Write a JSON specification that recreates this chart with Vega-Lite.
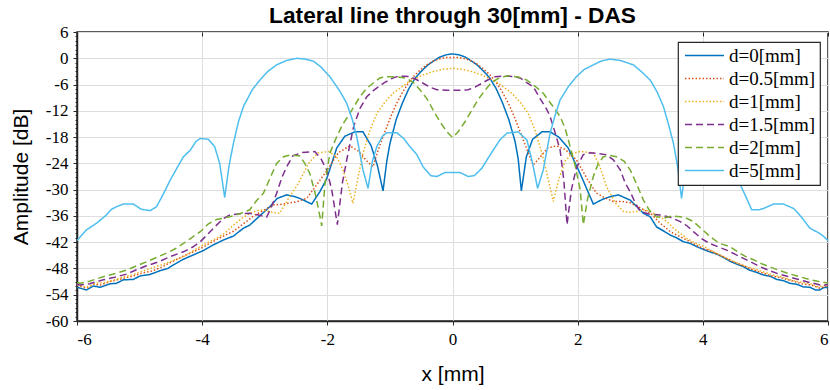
{
  "$schema": "https://vega.github.io/schema/vega-lite/v6.json",
  "width": 751,
  "height": 289,
  "autosize": "none",
  "padding": {"left": 77, "top": 32, "right": 2, "bottom": 69},
  "background": "white",
  "title": {
    "text": "Lateral line through 30[mm] - DAS",
    "font": "Liberation Sans",
    "fontSize": 22.7,
    "fontWeight": "bold",
    "color": "black",
    "anchor": "middle",
    "frame": "group",
    "offset": 5,
    "dy": 10
  },
  "config": {
    "view": {"stroke": "#262626", "strokeWidth": 1.5},
    "axis": {
      "domainColor": "#262626",
      "domainWidth": 1.5,
      "tickColor": "#262626",
      "gridColor": "#dedede",
      "gridWidth": 1,
      "labelFont": "Liberation Serif",
      "labelFontSize": 17,
      "labelColor": "black",
      "titleFont": "Liberation Sans",
      "titleFontSize": 21,
      "titleFontWeight": "normal",
      "titleColor": "black"
    },
    "legend": {
      "orient": "none",
      "legendX": 601,
      "legendY": 10,
      "direction": "vertical",
      "fillColor": "white",
      "strokeColor": "#262626",
      "strokeWidth": 1.2,
      "padding": 4,
      "symbolType": "M-1,0H5",
      "symbolSize": 169,
      "symbolStrokeWidth": 1.5,
      "labelFont": "Liberation Serif",
      "labelFontSize": 19,
      "labelColor": "black",
      "labelOffset": 28,
      "labelLimit": 200,
      "rowPadding": 3
    }
  },
  "datasets": {
    "curves": [
      {"d": "d=0[mm]", "x": -6.00, "y": -52.3},
      {"d": "d=0[mm]", "x": -5.85, "y": -52.9},
      {"d": "d=0[mm]", "x": -5.74, "y": -52.0},
      {"d": "d=0[mm]", "x": -5.63, "y": -52.3},
      {"d": "d=0[mm]", "x": -5.47, "y": -51.5},
      {"d": "d=0[mm]", "x": -5.37, "y": -51.4},
      {"d": "d=0[mm]", "x": -5.26, "y": -50.6},
      {"d": "d=0[mm]", "x": -5.10, "y": -50.5},
      {"d": "d=0[mm]", "x": -4.99, "y": -49.7},
      {"d": "d=0[mm]", "x": -4.84, "y": -49.4},
      {"d": "d=0[mm]", "x": -4.67, "y": -48.5},
      {"d": "d=0[mm]", "x": -4.55, "y": -48.0},
      {"d": "d=0[mm]", "x": -4.46, "y": -47.2},
      {"d": "d=0[mm]", "x": -4.30, "y": -45.9},
      {"d": "d=0[mm]", "x": -4.14, "y": -44.9},
      {"d": "d=0[mm]", "x": -3.98, "y": -43.9},
      {"d": "d=0[mm]", "x": -3.82, "y": -42.6},
      {"d": "d=0[mm]", "x": -3.66, "y": -41.5},
      {"d": "d=0[mm]", "x": -3.50, "y": -40.6},
      {"d": "d=0[mm]", "x": -3.34, "y": -38.8},
      {"d": "d=0[mm]", "x": -3.24, "y": -38.1},
      {"d": "d=0[mm]", "x": -3.08, "y": -36.0},
      {"d": "d=0[mm]", "x": -2.92, "y": -33.9},
      {"d": "d=0[mm]", "x": -2.80, "y": -32.0},
      {"d": "d=0[mm]", "x": -2.65, "y": -31.2},
      {"d": "d=0[mm]", "x": -2.52, "y": -31.6},
      {"d": "d=0[mm]", "x": -2.44, "y": -32.0},
      {"d": "d=0[mm]", "x": -2.25, "y": -33.3},
      {"d": "d=0[mm]", "x": -2.12, "y": -30.5},
      {"d": "d=0[mm]", "x": -2.01, "y": -27.5},
      {"d": "d=0[mm]", "x": -1.85, "y": -20.5},
      {"d": "d=0[mm]", "x": -1.72, "y": -17.8},
      {"d": "d=0[mm]", "x": -1.56, "y": -16.8},
      {"d": "d=0[mm]", "x": -1.43, "y": -16.8},
      {"d": "d=0[mm]", "x": -1.30, "y": -20.0},
      {"d": "d=0[mm]", "x": -1.20, "y": -24.5},
      {"d": "d=0[mm]", "x": -1.11, "y": -30.3},
      {"d": "d=0[mm]", "x": -1.05, "y": -23.5},
      {"d": "d=0[mm]", "x": -1.00, "y": -19.5},
      {"d": "d=0[mm]", "x": -0.90, "y": -14.0},
      {"d": "d=0[mm]", "x": -0.80, "y": -10.2},
      {"d": "d=0[mm]", "x": -0.70, "y": -7.0},
      {"d": "d=0[mm]", "x": -0.60, "y": -4.6},
      {"d": "d=0[mm]", "x": -0.50, "y": -3.0},
      {"d": "d=0[mm]", "x": -0.40, "y": -1.6},
      {"d": "d=0[mm]", "x": -0.30, "y": -0.6},
      {"d": "d=0[mm]", "x": -0.20, "y": 0.3},
      {"d": "d=0[mm]", "x": -0.10, "y": 0.8},
      {"d": "d=0[mm]", "x": 0.00, "y": 1.0},
      {"d": "d=0[mm]", "x": 0.10, "y": 0.8},
      {"d": "d=0[mm]", "x": 0.20, "y": 0.3},
      {"d": "d=0[mm]", "x": 0.30, "y": -0.6},
      {"d": "d=0[mm]", "x": 0.40, "y": -1.6},
      {"d": "d=0[mm]", "x": 0.50, "y": -3.0},
      {"d": "d=0[mm]", "x": 0.60, "y": -4.6},
      {"d": "d=0[mm]", "x": 0.70, "y": -7.0},
      {"d": "d=0[mm]", "x": 0.80, "y": -10.2},
      {"d": "d=0[mm]", "x": 0.90, "y": -14.0},
      {"d": "d=0[mm]", "x": 1.00, "y": -19.0},
      {"d": "d=0[mm]", "x": 1.05, "y": -23.0},
      {"d": "d=0[mm]", "x": 1.10, "y": -30.3},
      {"d": "d=0[mm]", "x": 1.18, "y": -22.5},
      {"d": "d=0[mm]", "x": 1.28, "y": -18.5},
      {"d": "d=0[mm]", "x": 1.43, "y": -16.8},
      {"d": "d=0[mm]", "x": 1.56, "y": -16.8},
      {"d": "d=0[mm]", "x": 1.70, "y": -18.0},
      {"d": "d=0[mm]", "x": 1.85, "y": -20.5},
      {"d": "d=0[mm]", "x": 2.06, "y": -27.0},
      {"d": "d=0[mm]", "x": 2.25, "y": -33.3},
      {"d": "d=0[mm]", "x": 2.40, "y": -32.2},
      {"d": "d=0[mm]", "x": 2.52, "y": -31.6},
      {"d": "d=0[mm]", "x": 2.65, "y": -31.2},
      {"d": "d=0[mm]", "x": 2.84, "y": -32.4},
      {"d": "d=0[mm]", "x": 3.05, "y": -35.4},
      {"d": "d=0[mm]", "x": 3.16, "y": -36.2},
      {"d": "d=0[mm]", "x": 3.26, "y": -38.5},
      {"d": "d=0[mm]", "x": 3.38, "y": -39.5},
      {"d": "d=0[mm]", "x": 3.48, "y": -40.4},
      {"d": "d=0[mm]", "x": 3.58, "y": -41.0},
      {"d": "d=0[mm]", "x": 3.69, "y": -41.9},
      {"d": "d=0[mm]", "x": 3.80, "y": -42.3},
      {"d": "d=0[mm]", "x": 3.90, "y": -43.0},
      {"d": "d=0[mm]", "x": 4.00, "y": -43.6},
      {"d": "d=0[mm]", "x": 4.11, "y": -44.2},
      {"d": "d=0[mm]", "x": 4.22, "y": -44.7},
      {"d": "d=0[mm]", "x": 4.33, "y": -45.5},
      {"d": "d=0[mm]", "x": 4.44, "y": -46.4},
      {"d": "d=0[mm]", "x": 4.54, "y": -47.0},
      {"d": "d=0[mm]", "x": 4.65, "y": -47.6},
      {"d": "d=0[mm]", "x": 4.75, "y": -48.4},
      {"d": "d=0[mm]", "x": 4.86, "y": -48.9},
      {"d": "d=0[mm]", "x": 4.97, "y": -49.5},
      {"d": "d=0[mm]", "x": 5.08, "y": -49.8},
      {"d": "d=0[mm]", "x": 5.18, "y": -50.5},
      {"d": "d=0[mm]", "x": 5.29, "y": -50.8},
      {"d": "d=0[mm]", "x": 5.39, "y": -51.4},
      {"d": "d=0[mm]", "x": 5.50, "y": -51.6},
      {"d": "d=0[mm]", "x": 5.60, "y": -52.2},
      {"d": "d=0[mm]", "x": 5.71, "y": -52.3},
      {"d": "d=0[mm]", "x": 5.80, "y": -52.9},
      {"d": "d=0[mm]", "x": 5.87, "y": -52.9},
      {"d": "d=0[mm]", "x": 5.93, "y": -52.4},
      {"d": "d=0[mm]", "x": 6.00, "y": -52.3},

      {"d": "d=0.5[mm]", "x": -6.00, "y": -51.8},
      {"d": "d=0.5[mm]", "x": -5.85, "y": -52.5},
      {"d": "d=0.5[mm]", "x": -5.74, "y": -51.6},
      {"d": "d=0.5[mm]", "x": -5.63, "y": -51.8},
      {"d": "d=0.5[mm]", "x": -5.47, "y": -51.0},
      {"d": "d=0.5[mm]", "x": -5.30, "y": -50.4},
      {"d": "d=0.5[mm]", "x": -5.10, "y": -49.7},
      {"d": "d=0.5[mm]", "x": -4.95, "y": -49.0},
      {"d": "d=0.5[mm]", "x": -4.80, "y": -48.6},
      {"d": "d=0.5[mm]", "x": -4.65, "y": -47.7},
      {"d": "d=0.5[mm]", "x": -4.50, "y": -46.6},
      {"d": "d=0.5[mm]", "x": -4.30, "y": -45.2},
      {"d": "d=0.5[mm]", "x": -4.14, "y": -44.2},
      {"d": "d=0.5[mm]", "x": -3.98, "y": -43.1},
      {"d": "d=0.5[mm]", "x": -3.82, "y": -41.8},
      {"d": "d=0.5[mm]", "x": -3.66, "y": -40.6},
      {"d": "d=0.5[mm]", "x": -3.50, "y": -39.5},
      {"d": "d=0.5[mm]", "x": -3.34, "y": -37.8},
      {"d": "d=0.5[mm]", "x": -3.18, "y": -36.0},
      {"d": "d=0.5[mm]", "x": -3.00, "y": -34.6},
      {"d": "d=0.5[mm]", "x": -2.86, "y": -33.5},
      {"d": "d=0.5[mm]", "x": -2.70, "y": -33.3},
      {"d": "d=0.5[mm]", "x": -2.50, "y": -32.8},
      {"d": "d=0.5[mm]", "x": -2.33, "y": -32.0},
      {"d": "d=0.5[mm]", "x": -2.15, "y": -28.5},
      {"d": "d=0.5[mm]", "x": -2.00, "y": -25.5},
      {"d": "d=0.5[mm]", "x": -1.82, "y": -21.5},
      {"d": "d=0.5[mm]", "x": -1.64, "y": -20.0},
      {"d": "d=0.5[mm]", "x": -1.50, "y": -21.2},
      {"d": "d=0.5[mm]", "x": -1.38, "y": -23.3},
      {"d": "d=0.5[mm]", "x": -1.27, "y": -24.8},
      {"d": "d=0.5[mm]", "x": -1.20, "y": -21.5},
      {"d": "d=0.5[mm]", "x": -1.10, "y": -17.5},
      {"d": "d=0.5[mm]", "x": -1.00, "y": -13.8},
      {"d": "d=0.5[mm]", "x": -0.90, "y": -10.5},
      {"d": "d=0.5[mm]", "x": -0.80, "y": -7.8},
      {"d": "d=0.5[mm]", "x": -0.70, "y": -5.5},
      {"d": "d=0.5[mm]", "x": -0.60, "y": -3.8},
      {"d": "d=0.5[mm]", "x": -0.50, "y": -2.5},
      {"d": "d=0.5[mm]", "x": -0.40, "y": -1.4},
      {"d": "d=0.5[mm]", "x": -0.30, "y": -0.6},
      {"d": "d=0.5[mm]", "x": -0.20, "y": -0.1},
      {"d": "d=0.5[mm]", "x": -0.10, "y": 0.2},
      {"d": "d=0.5[mm]", "x": 0.00, "y": 0.2},
      {"d": "d=0.5[mm]", "x": 0.10, "y": 0.2},
      {"d": "d=0.5[mm]", "x": 0.20, "y": -0.1},
      {"d": "d=0.5[mm]", "x": 0.30, "y": -0.6},
      {"d": "d=0.5[mm]", "x": 0.40, "y": -1.4},
      {"d": "d=0.5[mm]", "x": 0.50, "y": -2.5},
      {"d": "d=0.5[mm]", "x": 0.60, "y": -3.8},
      {"d": "d=0.5[mm]", "x": 0.70, "y": -5.5},
      {"d": "d=0.5[mm]", "x": 0.80, "y": -7.8},
      {"d": "d=0.5[mm]", "x": 0.90, "y": -10.5},
      {"d": "d=0.5[mm]", "x": 1.00, "y": -13.8},
      {"d": "d=0.5[mm]", "x": 1.10, "y": -17.5},
      {"d": "d=0.5[mm]", "x": 1.20, "y": -21.2},
      {"d": "d=0.5[mm]", "x": 1.29, "y": -24.4},
      {"d": "d=0.5[mm]", "x": 1.40, "y": -22.6},
      {"d": "d=0.5[mm]", "x": 1.52, "y": -20.5},
      {"d": "d=0.5[mm]", "x": 1.66, "y": -20.0},
      {"d": "d=0.5[mm]", "x": 1.80, "y": -20.8},
      {"d": "d=0.5[mm]", "x": 1.98, "y": -23.2},
      {"d": "d=0.5[mm]", "x": 2.15, "y": -27.5},
      {"d": "d=0.5[mm]", "x": 2.30, "y": -30.8},
      {"d": "d=0.5[mm]", "x": 2.45, "y": -32.0},
      {"d": "d=0.5[mm]", "x": 2.57, "y": -32.7},
      {"d": "d=0.5[mm]", "x": 2.70, "y": -32.7},
      {"d": "d=0.5[mm]", "x": 2.84, "y": -33.0},
      {"d": "d=0.5[mm]", "x": 3.00, "y": -34.2},
      {"d": "d=0.5[mm]", "x": 3.16, "y": -35.3},
      {"d": "d=0.5[mm]", "x": 3.30, "y": -37.4},
      {"d": "d=0.5[mm]", "x": 3.48, "y": -39.6},
      {"d": "d=0.5[mm]", "x": 3.66, "y": -40.9},
      {"d": "d=0.5[mm]", "x": 3.82, "y": -42.1},
      {"d": "d=0.5[mm]", "x": 3.98, "y": -43.3},
      {"d": "d=0.5[mm]", "x": 4.14, "y": -44.1},
      {"d": "d=0.5[mm]", "x": 4.30, "y": -45.1},
      {"d": "d=0.5[mm]", "x": 4.46, "y": -46.3},
      {"d": "d=0.5[mm]", "x": 4.62, "y": -47.2},
      {"d": "d=0.5[mm]", "x": 4.80, "y": -48.3},
      {"d": "d=0.5[mm]", "x": 4.95, "y": -49.0},
      {"d": "d=0.5[mm]", "x": 5.10, "y": -49.7},
      {"d": "d=0.5[mm]", "x": 5.26, "y": -50.2},
      {"d": "d=0.5[mm]", "x": 5.42, "y": -50.8},
      {"d": "d=0.5[mm]", "x": 5.58, "y": -51.5},
      {"d": "d=0.5[mm]", "x": 5.74, "y": -51.8},
      {"d": "d=0.5[mm]", "x": 5.87, "y": -52.5},
      {"d": "d=0.5[mm]", "x": 6.00, "y": -51.9},

      {"d": "d=1[mm]", "x": -6.00, "y": -51.6},
      {"d": "d=1[mm]", "x": -5.85, "y": -52.3},
      {"d": "d=1[mm]", "x": -5.70, "y": -51.4},
      {"d": "d=1[mm]", "x": -5.55, "y": -51.2},
      {"d": "d=1[mm]", "x": -5.40, "y": -50.6},
      {"d": "d=1[mm]", "x": -5.25, "y": -49.9},
      {"d": "d=1[mm]", "x": -5.10, "y": -49.4},
      {"d": "d=1[mm]", "x": -4.95, "y": -48.6},
      {"d": "d=1[mm]", "x": -4.83, "y": -48.0},
      {"d": "d=1[mm]", "x": -4.70, "y": -47.4},
      {"d": "d=1[mm]", "x": -4.57, "y": -46.8},
      {"d": "d=1[mm]", "x": -4.43, "y": -46.0},
      {"d": "d=1[mm]", "x": -4.30, "y": -45.3},
      {"d": "d=1[mm]", "x": -4.17, "y": -44.2},
      {"d": "d=1[mm]", "x": -4.03, "y": -43.0},
      {"d": "d=1[mm]", "x": -3.90, "y": -42.0},
      {"d": "d=1[mm]", "x": -3.77, "y": -41.1},
      {"d": "d=1[mm]", "x": -3.63, "y": -39.8},
      {"d": "d=1[mm]", "x": -3.50, "y": -38.1},
      {"d": "d=1[mm]", "x": -3.37, "y": -36.6},
      {"d": "d=1[mm]", "x": -3.24, "y": -35.4},
      {"d": "d=1[mm]", "x": -3.08, "y": -34.6},
      {"d": "d=1[mm]", "x": -2.94, "y": -35.0},
      {"d": "d=1[mm]", "x": -2.76, "y": -35.4},
      {"d": "d=1[mm]", "x": -2.62, "y": -32.0},
      {"d": "d=1[mm]", "x": -2.46, "y": -28.5},
      {"d": "d=1[mm]", "x": -2.30, "y": -24.0},
      {"d": "d=1[mm]", "x": -2.15, "y": -21.6},
      {"d": "d=1[mm]", "x": -1.98, "y": -21.3},
      {"d": "d=1[mm]", "x": -1.85, "y": -22.5},
      {"d": "d=1[mm]", "x": -1.75, "y": -25.5},
      {"d": "d=1[mm]", "x": -1.66, "y": -29.5},
      {"d": "d=1[mm]", "x": -1.59, "y": -33.1},
      {"d": "d=1[mm]", "x": -1.50, "y": -26.5},
      {"d": "d=1[mm]", "x": -1.43, "y": -21.7},
      {"d": "d=1[mm]", "x": -1.32, "y": -16.5},
      {"d": "d=1[mm]", "x": -1.21, "y": -12.6},
      {"d": "d=1[mm]", "x": -1.08, "y": -10.0},
      {"d": "d=1[mm]", "x": -0.95, "y": -8.0},
      {"d": "d=1[mm]", "x": -0.80, "y": -6.4},
      {"d": "d=1[mm]", "x": -0.70, "y": -5.4},
      {"d": "d=1[mm]", "x": -0.57, "y": -4.5},
      {"d": "d=1[mm]", "x": -0.45, "y": -3.7},
      {"d": "d=1[mm]", "x": -0.30, "y": -3.0},
      {"d": "d=1[mm]", "x": -0.15, "y": -2.5},
      {"d": "d=1[mm]", "x": 0.00, "y": -2.3},
      {"d": "d=1[mm]", "x": 0.15, "y": -2.5},
      {"d": "d=1[mm]", "x": 0.30, "y": -3.0},
      {"d": "d=1[mm]", "x": 0.45, "y": -3.7},
      {"d": "d=1[mm]", "x": 0.57, "y": -4.5},
      {"d": "d=1[mm]", "x": 0.70, "y": -5.4},
      {"d": "d=1[mm]", "x": 0.80, "y": -6.4},
      {"d": "d=1[mm]", "x": 0.95, "y": -8.0},
      {"d": "d=1[mm]", "x": 1.08, "y": -10.0},
      {"d": "d=1[mm]", "x": 1.21, "y": -12.6},
      {"d": "d=1[mm]", "x": 1.32, "y": -16.5},
      {"d": "d=1[mm]", "x": 1.43, "y": -21.7},
      {"d": "d=1[mm]", "x": 1.52, "y": -27.0},
      {"d": "d=1[mm]", "x": 1.61, "y": -32.7},
      {"d": "d=1[mm]", "x": 1.70, "y": -27.5},
      {"d": "d=1[mm]", "x": 1.80, "y": -23.5},
      {"d": "d=1[mm]", "x": 1.90, "y": -21.8},
      {"d": "d=1[mm]", "x": 2.04, "y": -21.3},
      {"d": "d=1[mm]", "x": 2.25, "y": -21.6},
      {"d": "d=1[mm]", "x": 2.35, "y": -24.5},
      {"d": "d=1[mm]", "x": 2.46, "y": -29.3},
      {"d": "d=1[mm]", "x": 2.60, "y": -33.0},
      {"d": "d=1[mm]", "x": 2.73, "y": -35.0},
      {"d": "d=1[mm]", "x": 2.85, "y": -35.2},
      {"d": "d=1[mm]", "x": 2.94, "y": -35.0},
      {"d": "d=1[mm]", "x": 3.05, "y": -34.6},
      {"d": "d=1[mm]", "x": 3.15, "y": -34.9},
      {"d": "d=1[mm]", "x": 3.32, "y": -36.2},
      {"d": "d=1[mm]", "x": 3.45, "y": -37.6},
      {"d": "d=1[mm]", "x": 3.53, "y": -38.8},
      {"d": "d=1[mm]", "x": 3.64, "y": -40.0},
      {"d": "d=1[mm]", "x": 3.74, "y": -41.1},
      {"d": "d=1[mm]", "x": 3.88, "y": -42.2},
      {"d": "d=1[mm]", "x": 4.03, "y": -43.1},
      {"d": "d=1[mm]", "x": 4.17, "y": -44.2},
      {"d": "d=1[mm]", "x": 4.30, "y": -45.2},
      {"d": "d=1[mm]", "x": 4.45, "y": -46.1},
      {"d": "d=1[mm]", "x": 4.57, "y": -46.9},
      {"d": "d=1[mm]", "x": 4.70, "y": -47.6},
      {"d": "d=1[mm]", "x": 4.83, "y": -48.1},
      {"d": "d=1[mm]", "x": 4.95, "y": -48.7},
      {"d": "d=1[mm]", "x": 5.10, "y": -49.4},
      {"d": "d=1[mm]", "x": 5.25, "y": -49.9},
      {"d": "d=1[mm]", "x": 5.40, "y": -50.6},
      {"d": "d=1[mm]", "x": 5.55, "y": -51.1},
      {"d": "d=1[mm]", "x": 5.70, "y": -51.4},
      {"d": "d=1[mm]", "x": 5.85, "y": -52.2},
      {"d": "d=1[mm]", "x": 6.00, "y": -51.7},

      {"d": "d=1.5[mm]", "x": -6.00, "y": -51.6},
      {"d": "d=1.5[mm]", "x": -5.95, "y": -51.8},
      {"d": "d=1.5[mm]", "x": -5.80, "y": -51.5},
      {"d": "d=1.5[mm]", "x": -5.58, "y": -50.6},
      {"d": "d=1.5[mm]", "x": -5.40, "y": -50.0},
      {"d": "d=1.5[mm]", "x": -5.21, "y": -49.3},
      {"d": "d=1.5[mm]", "x": -5.05, "y": -48.3},
      {"d": "d=1.5[mm]", "x": -4.89, "y": -47.4},
      {"d": "d=1.5[mm]", "x": -4.70, "y": -46.5},
      {"d": "d=1.5[mm]", "x": -4.51, "y": -45.3},
      {"d": "d=1.5[mm]", "x": -4.30, "y": -44.2},
      {"d": "d=1.5[mm]", "x": -4.15, "y": -43.1},
      {"d": "d=1.5[mm]", "x": -4.03, "y": -41.9},
      {"d": "d=1.5[mm]", "x": -3.90, "y": -40.0},
      {"d": "d=1.5[mm]", "x": -3.77, "y": -38.1},
      {"d": "d=1.5[mm]", "x": -3.66, "y": -36.6},
      {"d": "d=1.5[mm]", "x": -3.56, "y": -35.8},
      {"d": "d=1.5[mm]", "x": -3.40, "y": -35.5},
      {"d": "d=1.5[mm]", "x": -3.24, "y": -35.4},
      {"d": "d=1.5[mm]", "x": -3.10, "y": -35.8},
      {"d": "d=1.5[mm]", "x": -2.97, "y": -36.3},
      {"d": "d=1.5[mm]", "x": -2.88, "y": -33.5},
      {"d": "d=1.5[mm]", "x": -2.81, "y": -30.8},
      {"d": "d=1.5[mm]", "x": -2.72, "y": -27.0},
      {"d": "d=1.5[mm]", "x": -2.65, "y": -24.8},
      {"d": "d=1.5[mm]", "x": -2.55, "y": -22.3},
      {"d": "d=1.5[mm]", "x": -2.40, "y": -21.5},
      {"d": "d=1.5[mm]", "x": -2.20, "y": -21.3},
      {"d": "d=1.5[mm]", "x": -2.10, "y": -23.0},
      {"d": "d=1.5[mm]", "x": -2.01, "y": -25.5},
      {"d": "d=1.5[mm]", "x": -1.93, "y": -30.0},
      {"d": "d=1.5[mm]", "x": -1.84, "y": -38.0},
      {"d": "d=1.5[mm]", "x": -1.76, "y": -28.5},
      {"d": "d=1.5[mm]", "x": -1.69, "y": -23.2},
      {"d": "d=1.5[mm]", "x": -1.58, "y": -15.6},
      {"d": "d=1.5[mm]", "x": -1.48, "y": -11.5},
      {"d": "d=1.5[mm]", "x": -1.37, "y": -8.8},
      {"d": "d=1.5[mm]", "x": -1.25, "y": -7.2},
      {"d": "d=1.5[mm]", "x": -1.10, "y": -5.7},
      {"d": "d=1.5[mm]", "x": -1.00, "y": -4.8},
      {"d": "d=1.5[mm]", "x": -0.89, "y": -4.2},
      {"d": "d=1.5[mm]", "x": -0.78, "y": -4.1},
      {"d": "d=1.5[mm]", "x": -0.68, "y": -4.2},
      {"d": "d=1.5[mm]", "x": -0.57, "y": -4.9},
      {"d": "d=1.5[mm]", "x": -0.47, "y": -5.7},
      {"d": "d=1.5[mm]", "x": -0.36, "y": -6.6},
      {"d": "d=1.5[mm]", "x": -0.25, "y": -7.2},
      {"d": "d=1.5[mm]", "x": -0.10, "y": -7.3},
      {"d": "d=1.5[mm]", "x": 0.00, "y": -7.3},
      {"d": "d=1.5[mm]", "x": 0.10, "y": -7.3},
      {"d": "d=1.5[mm]", "x": 0.25, "y": -7.2},
      {"d": "d=1.5[mm]", "x": 0.36, "y": -6.6},
      {"d": "d=1.5[mm]", "x": 0.47, "y": -5.7},
      {"d": "d=1.5[mm]", "x": 0.57, "y": -4.9},
      {"d": "d=1.5[mm]", "x": 0.68, "y": -4.2},
      {"d": "d=1.5[mm]", "x": 0.78, "y": -4.1},
      {"d": "d=1.5[mm]", "x": 0.90, "y": -4.1},
      {"d": "d=1.5[mm]", "x": 1.00, "y": -4.2},
      {"d": "d=1.5[mm]", "x": 1.08, "y": -4.5},
      {"d": "d=1.5[mm]", "x": 1.18, "y": -5.5},
      {"d": "d=1.5[mm]", "x": 1.29, "y": -6.5},
      {"d": "d=1.5[mm]", "x": 1.40, "y": -9.2},
      {"d": "d=1.5[mm]", "x": 1.50, "y": -11.5},
      {"d": "d=1.5[mm]", "x": 1.56, "y": -13.3},
      {"d": "d=1.5[mm]", "x": 1.65, "y": -17.5},
      {"d": "d=1.5[mm]", "x": 1.72, "y": -21.0},
      {"d": "d=1.5[mm]", "x": 1.78, "y": -28.0},
      {"d": "d=1.5[mm]", "x": 1.83, "y": -38.0},
      {"d": "d=1.5[mm]", "x": 1.90, "y": -30.0},
      {"d": "d=1.5[mm]", "x": 1.98, "y": -25.0},
      {"d": "d=1.5[mm]", "x": 2.09, "y": -22.0},
      {"d": "d=1.5[mm]", "x": 2.20, "y": -21.6},
      {"d": "d=1.5[mm]", "x": 2.30, "y": -21.7},
      {"d": "d=1.5[mm]", "x": 2.45, "y": -22.0},
      {"d": "d=1.5[mm]", "x": 2.57, "y": -23.2},
      {"d": "d=1.5[mm]", "x": 2.68, "y": -25.5},
      {"d": "d=1.5[mm]", "x": 2.76, "y": -28.5},
      {"d": "d=1.5[mm]", "x": 2.84, "y": -30.5},
      {"d": "d=1.5[mm]", "x": 2.92, "y": -33.0},
      {"d": "d=1.5[mm]", "x": 3.00, "y": -35.0},
      {"d": "d=1.5[mm]", "x": 3.15, "y": -35.6},
      {"d": "d=1.5[mm]", "x": 3.32, "y": -35.8},
      {"d": "d=1.5[mm]", "x": 3.48, "y": -36.3},
      {"d": "d=1.5[mm]", "x": 3.64, "y": -37.3},
      {"d": "d=1.5[mm]", "x": 3.75, "y": -38.3},
      {"d": "d=1.5[mm]", "x": 3.85, "y": -39.6},
      {"d": "d=1.5[mm]", "x": 3.98, "y": -41.2},
      {"d": "d=1.5[mm]", "x": 4.11, "y": -42.3},
      {"d": "d=1.5[mm]", "x": 4.25, "y": -43.1},
      {"d": "d=1.5[mm]", "x": 4.38, "y": -43.8},
      {"d": "d=1.5[mm]", "x": 4.52, "y": -44.8},
      {"d": "d=1.5[mm]", "x": 4.65, "y": -45.7},
      {"d": "d=1.5[mm]", "x": 4.78, "y": -46.6},
      {"d": "d=1.5[mm]", "x": 4.91, "y": -47.6},
      {"d": "d=1.5[mm]", "x": 5.05, "y": -48.4},
      {"d": "d=1.5[mm]", "x": 5.20, "y": -49.2},
      {"d": "d=1.5[mm]", "x": 5.35, "y": -49.8},
      {"d": "d=1.5[mm]", "x": 5.50, "y": -50.4},
      {"d": "d=1.5[mm]", "x": 5.65, "y": -51.0},
      {"d": "d=1.5[mm]", "x": 5.80, "y": -51.5},
      {"d": "d=1.5[mm]", "x": 5.92, "y": -51.9},
      {"d": "d=1.5[mm]", "x": 6.00, "y": -51.6},

      {"d": "d=2[mm]", "x": -6.00, "y": -51.2},
      {"d": "d=2[mm]", "x": -5.95, "y": -51.4},
      {"d": "d=2[mm]", "x": -5.80, "y": -50.9},
      {"d": "d=2[mm]", "x": -5.58, "y": -49.9},
      {"d": "d=2[mm]", "x": -5.40, "y": -49.2},
      {"d": "d=2[mm]", "x": -5.21, "y": -48.4},
      {"d": "d=2[mm]", "x": -5.05, "y": -47.4},
      {"d": "d=2[mm]", "x": -4.89, "y": -46.5},
      {"d": "d=2[mm]", "x": -4.70, "y": -45.3},
      {"d": "d=2[mm]", "x": -4.57, "y": -44.5},
      {"d": "d=2[mm]", "x": -4.43, "y": -43.5},
      {"d": "d=2[mm]", "x": -4.30, "y": -42.3},
      {"d": "d=2[mm]", "x": -4.17, "y": -41.0},
      {"d": "d=2[mm]", "x": -4.03, "y": -39.6},
      {"d": "d=2[mm]", "x": -3.90, "y": -37.8},
      {"d": "d=2[mm]", "x": -3.77, "y": -36.8},
      {"d": "d=2[mm]", "x": -3.66, "y": -36.5},
      {"d": "d=2[mm]", "x": -3.56, "y": -36.2},
      {"d": "d=2[mm]", "x": -3.40, "y": -35.5},
      {"d": "d=2[mm]", "x": -3.24, "y": -34.6},
      {"d": "d=2[mm]", "x": -3.13, "y": -32.5},
      {"d": "d=2[mm]", "x": -3.02, "y": -30.8},
      {"d": "d=2[mm]", "x": -2.92, "y": -27.5},
      {"d": "d=2[mm]", "x": -2.81, "y": -24.0},
      {"d": "d=2[mm]", "x": -2.70, "y": -22.5},
      {"d": "d=2[mm]", "x": -2.60, "y": -22.1},
      {"d": "d=2[mm]", "x": -2.44, "y": -22.3},
      {"d": "d=2[mm]", "x": -2.36, "y": -24.0},
      {"d": "d=2[mm]", "x": -2.28, "y": -26.3},
      {"d": "d=2[mm]", "x": -2.20, "y": -30.5},
      {"d": "d=2[mm]", "x": -2.14, "y": -34.5},
      {"d": "d=2[mm]", "x": -2.09, "y": -38.3},
      {"d": "d=2[mm]", "x": -2.04, "y": -29.0},
      {"d": "d=2[mm]", "x": -1.96, "y": -21.7},
      {"d": "d=2[mm]", "x": -1.85, "y": -17.9},
      {"d": "d=2[mm]", "x": -1.75, "y": -15.0},
      {"d": "d=2[mm]", "x": -1.64, "y": -12.6},
      {"d": "d=2[mm]", "x": -1.48, "y": -8.8},
      {"d": "d=2[mm]", "x": -1.38, "y": -7.0},
      {"d": "d=2[mm]", "x": -1.27, "y": -5.7},
      {"d": "d=2[mm]", "x": -1.16, "y": -4.5},
      {"d": "d=2[mm]", "x": -1.05, "y": -4.2},
      {"d": "d=2[mm]", "x": -0.89, "y": -4.2},
      {"d": "d=2[mm]", "x": -0.73, "y": -4.6},
      {"d": "d=2[mm]", "x": -0.62, "y": -5.6},
      {"d": "d=2[mm]", "x": -0.52, "y": -7.2},
      {"d": "d=2[mm]", "x": -0.41, "y": -9.2},
      {"d": "d=2[mm]", "x": -0.31, "y": -11.8},
      {"d": "d=2[mm]", "x": -0.20, "y": -14.5},
      {"d": "d=2[mm]", "x": -0.09, "y": -16.8},
      {"d": "d=2[mm]", "x": 0.00, "y": -18.1},
      {"d": "d=2[mm]", "x": 0.09, "y": -16.8},
      {"d": "d=2[mm]", "x": 0.20, "y": -14.5},
      {"d": "d=2[mm]", "x": 0.31, "y": -11.8},
      {"d": "d=2[mm]", "x": 0.41, "y": -9.4},
      {"d": "d=2[mm]", "x": 0.52, "y": -7.3},
      {"d": "d=2[mm]", "x": 0.62, "y": -5.6},
      {"d": "d=2[mm]", "x": 0.73, "y": -4.6},
      {"d": "d=2[mm]", "x": 0.85, "y": -4.1},
      {"d": "d=2[mm]", "x": 0.92, "y": -4.0},
      {"d": "d=2[mm]", "x": 1.05, "y": -4.3},
      {"d": "d=2[mm]", "x": 1.19, "y": -5.0},
      {"d": "d=2[mm]", "x": 1.32, "y": -6.4},
      {"d": "d=2[mm]", "x": 1.45, "y": -8.0},
      {"d": "d=2[mm]", "x": 1.58, "y": -10.5},
      {"d": "d=2[mm]", "x": 1.72, "y": -13.3},
      {"d": "d=2[mm]", "x": 1.80, "y": -16.0},
      {"d": "d=2[mm]", "x": 1.88, "y": -20.2},
      {"d": "d=2[mm]", "x": 1.96, "y": -24.5},
      {"d": "d=2[mm]", "x": 2.04, "y": -30.0},
      {"d": "d=2[mm]", "x": 2.09, "y": -38.0},
      {"d": "d=2[mm]", "x": 2.16, "y": -32.0},
      {"d": "d=2[mm]", "x": 2.25, "y": -27.0},
      {"d": "d=2[mm]", "x": 2.33, "y": -24.0},
      {"d": "d=2[mm]", "x": 2.41, "y": -22.5},
      {"d": "d=2[mm]", "x": 2.52, "y": -22.2},
      {"d": "d=2[mm]", "x": 2.62, "y": -22.5},
      {"d": "d=2[mm]", "x": 2.74, "y": -23.5},
      {"d": "d=2[mm]", "x": 2.84, "y": -25.5},
      {"d": "d=2[mm]", "x": 2.95, "y": -29.0},
      {"d": "d=2[mm]", "x": 3.05, "y": -32.4},
      {"d": "d=2[mm]", "x": 3.15, "y": -34.8},
      {"d": "d=2[mm]", "x": 3.26, "y": -36.2},
      {"d": "d=2[mm]", "x": 3.40, "y": -36.4},
      {"d": "d=2[mm]", "x": 3.52, "y": -36.0},
      {"d": "d=2[mm]", "x": 3.64, "y": -36.2},
      {"d": "d=2[mm]", "x": 3.75, "y": -36.6},
      {"d": "d=2[mm]", "x": 3.85, "y": -37.3},
      {"d": "d=2[mm]", "x": 3.95, "y": -38.6},
      {"d": "d=2[mm]", "x": 4.06, "y": -40.0},
      {"d": "d=2[mm]", "x": 4.17, "y": -41.3},
      {"d": "d=2[mm]", "x": 4.27, "y": -42.3},
      {"d": "d=2[mm]", "x": 4.43, "y": -43.0},
      {"d": "d=2[mm]", "x": 4.59, "y": -44.5},
      {"d": "d=2[mm]", "x": 4.70, "y": -45.4},
      {"d": "d=2[mm]", "x": 4.81, "y": -46.0},
      {"d": "d=2[mm]", "x": 4.95, "y": -47.0},
      {"d": "d=2[mm]", "x": 5.10, "y": -47.8},
      {"d": "d=2[mm]", "x": 5.25, "y": -48.6},
      {"d": "d=2[mm]", "x": 5.40, "y": -49.3},
      {"d": "d=2[mm]", "x": 5.55, "y": -49.9},
      {"d": "d=2[mm]", "x": 5.70, "y": -50.5},
      {"d": "d=2[mm]", "x": 5.85, "y": -51.0},
      {"d": "d=2[mm]", "x": 6.00, "y": -51.3},

      {"d": "d=5[mm]", "x": -6.00, "y": -41.6},
      {"d": "d=5[mm]", "x": -5.92, "y": -40.3},
      {"d": "d=5[mm]", "x": -5.85, "y": -39.2},
      {"d": "d=5[mm]", "x": -5.69, "y": -37.7},
      {"d": "d=5[mm]", "x": -5.53, "y": -35.8},
      {"d": "d=5[mm]", "x": -5.45, "y": -34.5},
      {"d": "d=5[mm]", "x": -5.37, "y": -33.9},
      {"d": "d=5[mm]", "x": -5.26, "y": -33.3},
      {"d": "d=5[mm]", "x": -5.10, "y": -33.3},
      {"d": "d=5[mm]", "x": -4.97, "y": -34.5},
      {"d": "d=5[mm]", "x": -4.83, "y": -34.8},
      {"d": "d=5[mm]", "x": -4.73, "y": -33.9},
      {"d": "d=5[mm]", "x": -4.62, "y": -31.0},
      {"d": "d=5[mm]", "x": -4.51, "y": -27.8},
      {"d": "d=5[mm]", "x": -4.40, "y": -25.0},
      {"d": "d=5[mm]", "x": -4.30, "y": -22.5},
      {"d": "d=5[mm]", "x": -4.19, "y": -21.0},
      {"d": "d=5[mm]", "x": -4.10, "y": -19.0},
      {"d": "d=5[mm]", "x": -4.03, "y": -18.3},
      {"d": "d=5[mm]", "x": -3.90, "y": -18.5},
      {"d": "d=5[mm]", "x": -3.80, "y": -20.2},
      {"d": "d=5[mm]", "x": -3.72, "y": -24.0},
      {"d": "d=5[mm]", "x": -3.64, "y": -31.8},
      {"d": "d=5[mm]", "x": -3.57, "y": -24.5},
      {"d": "d=5[mm]", "x": -3.50, "y": -19.4},
      {"d": "d=5[mm]", "x": -3.42, "y": -14.5},
      {"d": "d=5[mm]", "x": -3.34, "y": -11.0},
      {"d": "d=5[mm]", "x": -3.20, "y": -7.2},
      {"d": "d=5[mm]", "x": -3.08, "y": -5.0},
      {"d": "d=5[mm]", "x": -2.95, "y": -3.0},
      {"d": "d=5[mm]", "x": -2.81, "y": -1.5},
      {"d": "d=5[mm]", "x": -2.65, "y": -0.5},
      {"d": "d=5[mm]", "x": -2.49, "y": 0.0},
      {"d": "d=5[mm]", "x": -2.35, "y": -0.2},
      {"d": "d=5[mm]", "x": -2.22, "y": -0.7},
      {"d": "d=5[mm]", "x": -2.10, "y": -2.0},
      {"d": "d=5[mm]", "x": -1.96, "y": -4.2},
      {"d": "d=5[mm]", "x": -1.80, "y": -7.5},
      {"d": "d=5[mm]", "x": -1.69, "y": -10.3},
      {"d": "d=5[mm]", "x": -1.60, "y": -14.0},
      {"d": "d=5[mm]", "x": -1.53, "y": -17.9},
      {"d": "d=5[mm]", "x": -1.43, "y": -25.5},
      {"d": "d=5[mm]", "x": -1.35, "y": -29.7},
      {"d": "d=5[mm]", "x": -1.28, "y": -23.5},
      {"d": "d=5[mm]", "x": -1.21, "y": -20.2},
      {"d": "d=5[mm]", "x": -1.12, "y": -17.8},
      {"d": "d=5[mm]", "x": -1.05, "y": -17.0},
      {"d": "d=5[mm]", "x": -0.89, "y": -17.0},
      {"d": "d=5[mm]", "x": -0.78, "y": -18.3},
      {"d": "d=5[mm]", "x": -0.68, "y": -20.2},
      {"d": "d=5[mm]", "x": -0.57, "y": -22.0},
      {"d": "d=5[mm]", "x": -0.47, "y": -24.8},
      {"d": "d=5[mm]", "x": -0.35, "y": -26.8},
      {"d": "d=5[mm]", "x": -0.25, "y": -27.0},
      {"d": "d=5[mm]", "x": -0.12, "y": -26.1},
      {"d": "d=5[mm]", "x": 0.00, "y": -26.1},
      {"d": "d=5[mm]", "x": 0.12, "y": -26.1},
      {"d": "d=5[mm]", "x": 0.25, "y": -27.0},
      {"d": "d=5[mm]", "x": 0.35, "y": -26.8},
      {"d": "d=5[mm]", "x": 0.47, "y": -25.1},
      {"d": "d=5[mm]", "x": 0.56, "y": -23.0},
      {"d": "d=5[mm]", "x": 0.65, "y": -21.0},
      {"d": "d=5[mm]", "x": 0.76, "y": -18.6},
      {"d": "d=5[mm]", "x": 0.87, "y": -17.1},
      {"d": "d=5[mm]", "x": 1.05, "y": -16.8},
      {"d": "d=5[mm]", "x": 1.19, "y": -18.7},
      {"d": "d=5[mm]", "x": 1.28, "y": -24.0},
      {"d": "d=5[mm]", "x": 1.36, "y": -29.7},
      {"d": "d=5[mm]", "x": 1.45, "y": -25.5},
      {"d": "d=5[mm]", "x": 1.56, "y": -17.1},
      {"d": "d=5[mm]", "x": 1.64, "y": -13.0},
      {"d": "d=5[mm]", "x": 1.72, "y": -9.5},
      {"d": "d=5[mm]", "x": 1.85, "y": -6.5},
      {"d": "d=5[mm]", "x": 1.98, "y": -4.2},
      {"d": "d=5[mm]", "x": 2.10, "y": -2.6},
      {"d": "d=5[mm]", "x": 2.25, "y": -1.5},
      {"d": "d=5[mm]", "x": 2.38, "y": -0.6},
      {"d": "d=5[mm]", "x": 2.52, "y": -0.2},
      {"d": "d=5[mm]", "x": 2.68, "y": -0.5},
      {"d": "d=5[mm]", "x": 2.89, "y": -1.5},
      {"d": "d=5[mm]", "x": 3.03, "y": -3.2},
      {"d": "d=5[mm]", "x": 3.16, "y": -5.0},
      {"d": "d=5[mm]", "x": 3.27, "y": -7.7},
      {"d": "d=5[mm]", "x": 3.37, "y": -11.0},
      {"d": "d=5[mm]", "x": 3.45, "y": -15.0},
      {"d": "d=5[mm]", "x": 3.53, "y": -19.4},
      {"d": "d=5[mm]", "x": 3.60, "y": -25.0},
      {"d": "d=5[mm]", "x": 3.66, "y": -32.0},
      {"d": "d=5[mm]", "x": 3.73, "y": -24.5},
      {"d": "d=5[mm]", "x": 3.80, "y": -20.5},
      {"d": "d=5[mm]", "x": 3.90, "y": -18.5},
      {"d": "d=5[mm]", "x": 4.03, "y": -18.3},
      {"d": "d=5[mm]", "x": 4.15, "y": -19.5},
      {"d": "d=5[mm]", "x": 4.25, "y": -21.5},
      {"d": "d=5[mm]", "x": 4.35, "y": -23.0},
      {"d": "d=5[mm]", "x": 4.46, "y": -26.0},
      {"d": "d=5[mm]", "x": 4.59, "y": -28.6},
      {"d": "d=5[mm]", "x": 4.70, "y": -32.0},
      {"d": "d=5[mm]", "x": 4.78, "y": -34.6},
      {"d": "d=5[mm]", "x": 4.90, "y": -34.6},
      {"d": "d=5[mm]", "x": 4.97, "y": -34.3},
      {"d": "d=5[mm]", "x": 5.13, "y": -33.3},
      {"d": "d=5[mm]", "x": 5.29, "y": -33.3},
      {"d": "d=5[mm]", "x": 5.45, "y": -34.3},
      {"d": "d=5[mm]", "x": 5.53, "y": -35.5},
      {"d": "d=5[mm]", "x": 5.61, "y": -36.9},
      {"d": "d=5[mm]", "x": 5.71, "y": -38.8},
      {"d": "d=5[mm]", "x": 5.87, "y": -40.0},
      {"d": "d=5[mm]", "x": 5.94, "y": -40.8},
      {"d": "d=5[mm]", "x": 6.00, "y": -41.7}
    ]
  },
  "layer": [
    {
      "data": {"name": "curves"},
      "mark": {"type": "line", "strokeWidth": 1.5, "clip": true},
      "encoding": {
        "x": {
          "field": "x",
          "type": "quantitative",
          "scale": {"domain": [-6, 6], "nice": false, "zero": false},
          "axis": {
            "orient": "bottom",
            "title": "x [mm]",
            "values": [-6, -4, -2, 0, 2, 4, 6],
            "labelExpr": "replace(datum.label, '\u2212', '-')",
            "labelFont": "Liberation Serif",
            "tickSize": 4,
            "labelPadding": 6,
            "titlePadding": 16,
            "grid": true
          }
        },
        "y": {
          "field": "y",
          "type": "quantitative",
          "scale": {"domain": [-60, 6], "nice": false, "zero": false},
          "axis": {
            "orient": "left",
            "title": "Amplitude [dB]",
            "values": [-60, -54, -48, -42, -36, -30, -24, -18, -12, -6, 0, 6],
            "labelExpr": "replace(datum.label, '\u2212', '-')",
            "labelFont": "Liberation Serif",
            "tickSize": 4,
            "labelPadding": 5,
            "titlePadding": 14,
            "grid": true
          }
        },
        "color": {
          "field": "d",
          "type": "nominal",
          "sort": ["d=0[mm]", "d=0.5[mm]", "d=1[mm]", "d=1.5[mm]", "d=2[mm]", "d=5[mm]"],
          "scale": {
            "domain": ["d=0[mm]", "d=0.5[mm]", "d=1[mm]", "d=1.5[mm]", "d=2[mm]", "d=5[mm]"],
            "range": ["#0072BD", "#D95319", "#EDB120", "#7E2F8E", "#77AC30", "#4DBEEE"]
          },
          "legend": {"title": null}
        },
        "strokeDash": {
          "field": "d",
          "type": "nominal",
          "sort": ["d=0[mm]", "d=0.5[mm]", "d=1[mm]", "d=1.5[mm]", "d=2[mm]", "d=5[mm]"],
          "scale": {
            "domain": ["d=0[mm]", "d=0.5[mm]", "d=1[mm]", "d=1.5[mm]", "d=2[mm]", "d=5[mm]"],
            "range": [[1, 0], [1.5, 2], [1.5, 2], [7, 4], [7, 4], [1, 0]]
          },
          "legend": {"title": null}
        }
      }
    },
    {
      "data": {"name": "curves"},
      "mark": {"type": "point", "opacity": 0},
      "encoding": {
        "x": {
          "field": "x",
          "type": "quantitative",
          "axis": {
            "orient": "top",
            "title": null,
            "labels": false,
            "domain": false,
            "grid": false,
            "values": [-6, -4, -2, 0, 2, 4, 6],
            "tickSize": -4
          }
        },
        "y": {
          "field": "y",
          "type": "quantitative",
          "axis": {
            "orient": "left",
            "title": null,
            "labels": false,
            "domain": false,
            "grid": false,
            "values": [-59, -58, -57, -56, -55, -53, -52, -51, -50, -49, -47, -46, -45, -44, -43, -41, -40, -39, -38, -37, -35, -34, -33, -32, -31, -29, -28, -27, -26, -25, -23, -22, -21, -20, -19, -17, -16, -15, -14, -13, -11, -10, -9, -8, -7, -5, -4, -3, -2, -1, 1, 2, 3, 4, 5],
            "tickSize": 2
          }
        }
      }
    }
  ],
  "resolve": {"axis": {"x": "independent", "y": "independent"}}
}
